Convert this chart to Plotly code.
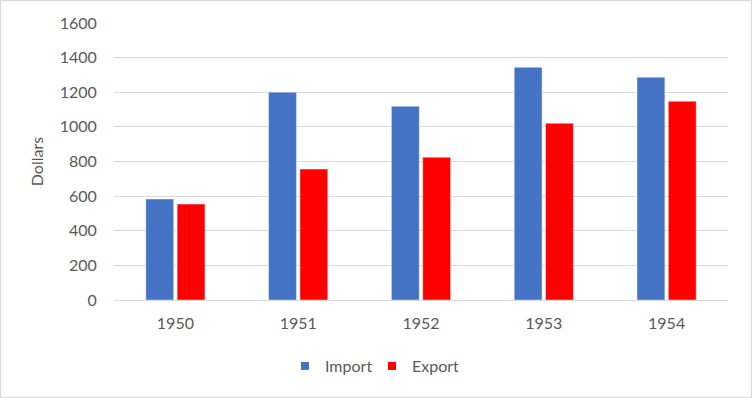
import plotly.graph_objects as go

years = ["1950", "1951", "1952", "1953", "1954"]
import_vals = [583, 1200, 1119, 1344, 1287]
export_vals = [554, 756, 825, 1021, 1148]
y_ticks = [0, 200, 400, 600, 800, 1000, 1200, 1400, 1600]
series_names = ["Import", "Export"]
series_colors = ["#4472c4", "#ff0000"]

W, H = 752, 398
L, R, T, B = 114, 24, 23, 98
pw, ph = W - L - R, H - T - B

fig = go.Figure()
for name, vals, col in zip(series_names, [import_vals, export_vals], series_colors):
    fig.add_trace(go.Bar(name=name, x=years, y=vals, marker_color=col, showlegend=False))
# legend entries with small square swatches
for name, col in zip(series_names, series_colors):
    fig.add_trace(go.Scatter(name=name, x=[None], y=[None], mode="markers",
                             marker=dict(symbol="square", size=8, color=col)))

font = "Lato, 'Open Sans', sans-serif"
fig.update_layout(
    width=W, height=H,
    margin=dict(l=L, r=R, t=T, b=B),
    paper_bgcolor="white", plot_bgcolor="white",
    barmode="group", bargap=0.49, bargroupgap=0.111,
    font=dict(family=font, size=16, color="#595959"),
    showlegend=True,
    legend=dict(orientation="h", x=(372 - L) / pw, xanchor="center",
                y=(T + ph - 366) / ph, yanchor="middle", entrywidth=42,
                font=dict(size=16, color="#595959"), itemwidth=30, tracegroupgap=0,
                bgcolor="rgba(0,0,0,0)"),
    xaxis=dict(showgrid=False, showline=False, ticks="outside", ticklen=9,
               tickcolor="rgba(0,0,0,0)", tickfont=dict(size=16, color="#595959")),
    yaxis=dict(range=[0, 1600], tickvals=y_ticks, showgrid=True, gridcolor="#d9d9d9",
               gridwidth=1, zeroline=True, zerolinecolor="#d9d9d9", zerolinewidth=1,
               ticks="outside", ticklen=13, tickcolor="rgba(0,0,0,0)",
               tickfont=dict(size=16, color="#595959"),
               title=dict(text="Dollars", font=dict(size=16, color="#595959"), standoff=12)),
    shapes=[dict(type="rect", xref="paper", yref="paper",
                 x0=(0.5 - L) / pw, x1=(W - 0.5 - L) / pw,
                 y0=(T + ph - (H - 0.5)) / ph, y1=(T + ph - 0.5) / ph,
                 line=dict(color="#d9d9d9", width=1), fillcolor="rgba(0,0,0,0)", layer="below")],
)

fig.write_html("out.html", config={"displayModeBar": False},
               post_script="document.body.style.margin='0';")
